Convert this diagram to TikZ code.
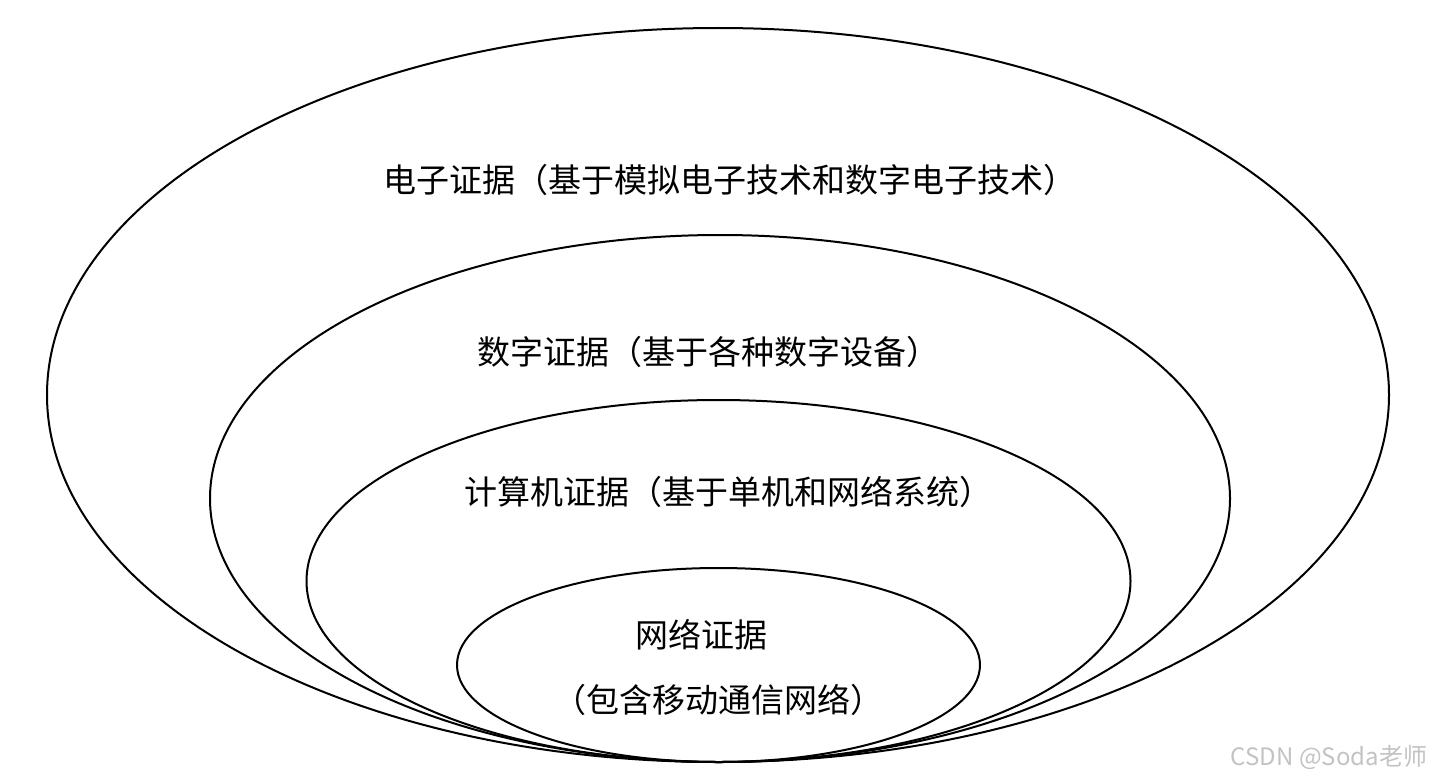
\documentclass[tikz,border=0pt]{standalone}
\usepackage{fontspec}
\newfontfamily\cjk{Noto Sans CJK SC}
\definecolor{wmgray}{RGB}{195,195,195}
\tikzset{
  ring/.style={draw=black, line width=2pt},
  lbl/.style={inner sep=0pt, font=\cjk\fontsize{33}{38}\selectfont},
  wm/.style={inner sep=0pt, text=wmgray, font=\cjk\fontsize{24}{28}\selectfont}
}
\begin{document}
\begin{tikzpicture}[x=1pt,y=-1pt]
\useasboundingbox (0,0) rectangle (1440,784);
\fill[white] (0,0) rectangle (1440,784);
\draw[ring] (718,395) ellipse [x radius=671, y radius=367];
\draw[ring] (720,498.5) ellipse [x radius=510, y radius=263.5];
\draw[ring] (718.5,581) ellipse [x radius=412, y radius=181];
\draw[ring] (718.5,665) ellipse [x radius=261.5, y radius=97];
\node[lbl] (l1) at (730,180) {电子证据（基于模拟电子技术和数字电子技术）};
\node[lbl] (l2) at (708,352) {数字证据（基于各种数字设备）};
\node[lbl] (l3) at (728,492) {计算机证据（基于单机和网络系统）};
\node[lbl] (l4) at (701,635) {网络证据};
\node[lbl] (l5) at (718,700) {（包含移动通信网络）};
\node[wm] (wm) at (1329,757) {CSDN @Soda老师};
\end{tikzpicture}
\end{document}
